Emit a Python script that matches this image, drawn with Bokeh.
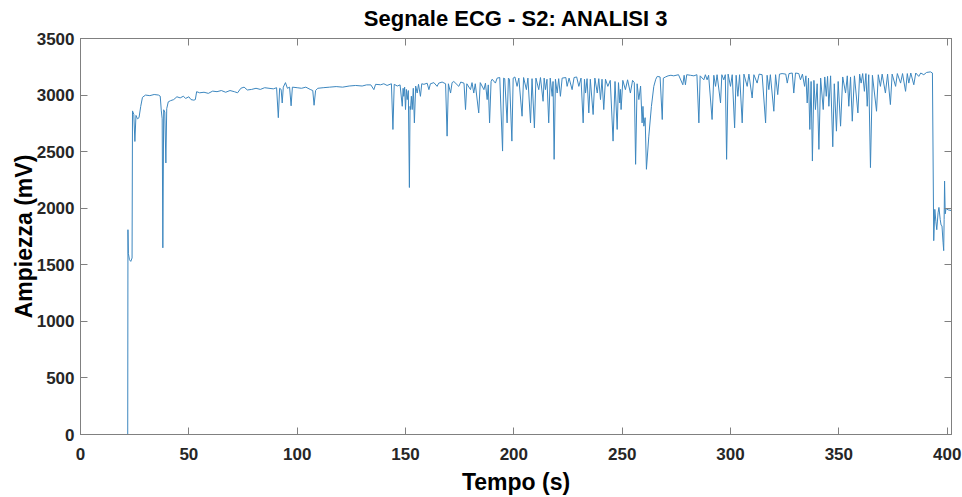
from bokeh.plotting import figure
from bokeh.models import LinearAxis, FixedTicker, Range1d, ColumnDataSource, CustomLabelingPolicy
from bokeh.embed import file_html
from bokeh.resources import INLINE

# ---------------- data ----------------
title_text = "Segnale ECG - S2: ANALISI 3"
x_label = "Tempo (s)"
y_label = "Ampiezza (mV)"
x_ticks = [0, 50, 100, 150, 200, 250, 300, 350, 400]
y_ticks = [0, 500, 1000, 1500, 2000, 2500, 3000, 3500]

# start-up part of the recording (0 - 134 s)
t_start = [0, 21.8, 21.9, 22.1, 22.6, 23.2, 23.8, 24.0, 24.6, 25.1, 25.6, 26.3, 27.0, 27.8, 28.6,
           30.0, 32.0, 34.0, 36.0, 36.8, 37.3, 37.7, 38.0, 38.4, 38.9, 39.4, 39.8, 40.5, 41.5,
           43.0, 44.5, 46.0, 47.5, 48.5, 50.0, 51.0, 52.3, 53.0, 53.6, 55.0, 57.0, 59.0, 61.0,
           63.0, 65.0, 67.0, 69.0, 71.0, 72.5, 74.0, 75.5, 77.0, 79.0, 81.0, 83.0, 85.0, 87.0,
           89.0, 90.5, 91.3, 91.9, 92.6, 93.1, 93.6, 94.6, 95.5, 96.5, 97.2, 97.8, 100.0, 102.0,
           104.0, 106.0, 107.2, 107.8, 108.5, 109.5, 112.0, 115.0, 118.0, 121.0, 124.0, 127.0,
           130.0, 132.0]
v_start = [0, 0, 1810, 1600, 1545, 1530, 1560, 2860, 2830, 2590, 2820, 2790, 2800, 2900, 2980,
           3000, 2995, 3005, 3000, 2990, 2860, 2790, 1650, 2870, 2850, 2400, 2880, 2940, 2950,
           2960, 2985, 2975, 2990, 2970, 2985, 2960, 2955, 2960, 3030, 3020, 3025, 3015, 3035,
           3030, 3040, 3025, 3040, 3030, 3020, 3060, 3070, 3045, 3050, 3060, 3050, 3065, 3060,
           3055, 3065, 2800, 3060, 3050, 2930, 3070, 3110, 3060, 3070, 2905, 3070, 3065, 3060,
           3070, 3050, 3040, 2910, 3040, 3060, 3065, 3070, 3075, 3070, 3080, 3085,
           3080, 3090]

# middle part (134 - 272 s)
t_mid = [134.0, 135.4, 136.2, 138.5, 140.0, 141.5, 143.5, 144.2, 144.8, 146.2, 147.5, 148.5,
         148.9, 149.2, 149.6, 150.0, 150.4, 150.8, 151.3, 151.8, 152.1, 152.3, 152.7, 153.1,
         153.6, 154.1, 154.7, 155.4, 156.0, 156.9, 157.5, 158.5, 160.0, 160.8, 161.5, 163.1,
         164.6, 165.3, 166.9, 168.5, 169.2, 169.8, 170.8, 171.5, 172.3, 174.6, 175.5, 177.0,
         177.7, 178.3, 180.0, 180.7, 181.5, 182.2, 183.8, 184.5, 186.2, 186.9, 187.7, 188.2,
         188.8, 189.5, 190.0, 191.5, 192.3, 193.5, 194.8, 195.3, 195.8, 196.9, 197.5, 198.0,
         199.1, 199.7, 200.5, 201.5, 202.3, 203.8, 204.5, 205.8, 206.5, 207.7, 208.4, 209.5,
         210.2, 211.5, 212.3, 213.5, 214.0, 214.6, 215.3, 216.1, 216.8, 217.7, 218.1, 218.6,
         219.2, 220.0, 220.7, 221.5, 222.3, 224.0, 224.6, 225.5, 226.9, 227.8, 229.0, 230.0,
         231.0, 232.0, 232.6, 233.1, 233.8, 234.6, 235.3, 236.6, 237.4, 238.5, 239.2, 240.0,
         240.7, 241.5, 242.3, 243.4, 244.5, 245.8, 246.7, 247.7, 248.3, 248.9, 249.2, 249.5,
         250.3, 251.5, 252.5, 253.8, 254.8, 255.6, 256.2, 256.9, 257.7, 258.5, 259.2, 259.6,
         260.0, 260.6, 261.2, 262.3, 263.5, 264.6, 265.5, 266.2, 267.5, 268.5, 269.0, 270.0,
         271.2]
v_mid = [3090, 3048, 3095, 3091, 3100, 3085, 3100, 2696, 3095, 3080, 3090, 2901,
         3060, 2989, 3070, 2872, 3050, 2960, 3040, 2183, 2900, 2872, 2990, 2872,
         3060, 2754, 3080, 3018, 3095, 2989, 3100, 3095, 3105, 3048, 3100, 3110,
         3077, 3105, 3115, 3100, 2637, 3100, 3018, 3110, 3120, 3077, 3115, 3105,
         2872, 3100, 3048, 3110, 3018, 3100, 2842, 3110, 3048, 3105, 2960, 3090,
         2754, 3120, 3140, 3106, 3150, 3155, 2505, 3150, 3145, 2754, 3150, 3140,
         2593, 3150, 3160, 3077, 3150, 2813, 3155, 3048, 3150, 2754, 3145, 2710,
         3150, 3048, 3155, 2945, 3150, 3048, 3140, 2754, 3150, 2989, 3120, 2432,
         3140, 3018, 3145, 2989, 3150, 3155, 3077, 3150, 3048, 3155, 3160, 3077,
         3150, 2754, 3140, 3018, 3145, 2842, 3140, 2828, 3150, 3018, 3145, 2960,
         3140, 2872, 3140, 3077, 3130, 2593, 3120, 2696, 3110, 2930, 3050, 2872,
         3130, 3048, 3135, 3018, 3130, 3110, 2388, 3100, 2960, 3080, 2754, 2900,
         2725, 2800, 2344, 2637, 2900, 3077, 3140, 3165, 3160, 2784, 3150, 3160,
         3170]

# late part (272 - 393 s)
t_late = [272.5, 273.8, 276.0, 278.0, 278.6, 279.2, 279.8, 281.5, 283.1, 284.5, 285.4, 286.0,
          287.7, 288.4, 289.2, 289.9, 291.5, 292.3, 293.1, 293.8, 295.4, 296.0, 296.9, 297.6,
          298.2, 298.9, 300.0, 300.8, 301.9, 302.6, 303.4, 304.2, 305.4, 306.2, 307.7, 308.5,
          310.0, 310.8, 312.3, 313.2, 314.6, 316.2, 316.9, 317.7, 318.4, 320.0, 320.8, 321.8,
          322.6, 323.8, 325.5, 326.2, 327.0, 328.5, 329.2, 330.0, 331.5, 332.3, 333.2, 334.2,
          334.8, 335.4, 336.0, 336.6, 337.2, 337.8, 338.5, 339.2, 340.0, 340.8, 341.6, 342.8,
          343.5, 344.2, 344.8, 345.4, 346.2, 347.2, 347.9, 348.9, 349.7, 350.8, 351.8, 353.1,
          353.9, 354.6, 355.4, 356.2, 357.2, 358.8, 359.6, 360.3, 361.0, 361.8, 362.5, 363.1,
          363.8, 364.6, 365.5, 367.4, 368.2, 369.2, 370.0, 371.5, 372.5, 373.8, 374.6, 376.2,
          377.0, 378.5, 379.4, 380.8, 381.6, 382.3, 383.2, 384.6, 385.5, 386.9, 387.8, 389.2,
          390.5, 392.3, 393.2]
v_late = [3175, 3170, 3180, 3091, 3175, 3091, 3180, 3175, 3170, 3180, 2754, 3170,
          3135, 3180, 3135, 3175, 2784, 3175, 3077, 3180, 2930, 3180, 3135, 3180,
          2432, 3185, 3077, 3180, 2710, 3175, 2989, 3180, 2754, 3185, 3077, 3185,
          2974, 3180, 3106, 3185, 3180, 2754, 3175, 3048, 3180, 2857, 3180, 3004,
          3185, 3190, 3185, 3106, 3190, 3195, 3018, 3195, 3190, 3135, 3185, 3077,
          3170, 2930, 3150, 2696, 3120, 2417, 3130, 2872, 3100, 2520, 3150, 2872,
          3160, 2989, 3165, 2901, 3170, 2543, 3100, 2681, 3120, 2725, 3160, 3018,
          3170, 2901, 3160, 2769, 3170, 2842, 3185, 3106, 3190, 3033, 3190, 2901,
          3180, 2359, 3175, 2857, 3180, 3077, 3185, 3018, 3185, 2916, 3185, 3077,
          3190, 3106, 3190, 3033, 3190, 3106, 3195, 3091, 3195, 3165, 3195, 3180,
          3200, 3205, 3195]

# final part after the drop (393.5 - 402 s)
t_end = [393.8, 394.3, 394.8, 395.2, 395.8, 396.2, 396.8, 397.2, 397.6, 398.1, 398.4, 398.6,
         398.8, 399.1, 399.5, 399.8, 400.5, 401.8, 402.0]
v_end = [1713, 1990, 1880, 1810, 1960, 2007, 1900, 1850, 1845, 1700, 1625, 1900,
         2240, 1950, 2000, 1992, 1985, 1980, 1990]

time_s = t_start + t_mid + t_late + t_end
amp_mV = v_start + v_mid + v_late + v_end

# ---------------- figure ----------------
FONT = "Liberation Sans"
AX_COL = "#808080"
TXT_COL = "#262626"

p = figure(width=962, height=497,
           x_range=Range1d(0, 402.0), y_range=Range1d(0, 3500),
           output_backend="svg", toolbar_location=None,
           min_border_left=80, min_border_right=11, min_border_top=0, min_border_bottom=0)
p.background_fill_color = "white"
p.border_fill_color = "white"
p.outline_line_color = AX_COL
p.xgrid.visible = False
p.ygrid.visible = False

src = ColumnDataSource(data=dict(t=time_s, v=amp_mV))
p.line("t", "v", source=src, line_color="#3d87bf", line_width=1)

p.title.text = title_text
p.title.align = "center"
p.title.text_font = FONT
p.title.text_font_size = "22px"
p.title.text_font_style = "bold"
p.title.text_color = "#000000"
p.title.standoff = 7

def style_axis(ax, ticks, label, show_labels=True):
    ax.ticker = FixedTicker(ticks=ticks)
    ax.minor_tick_line_color = None
    ax.minor_tick_in = 0
    ax.minor_tick_out = 0
    ax.major_tick_in = 7
    ax.major_tick_out = 0
    ax.axis_line_color = AX_COL
    ax.major_tick_line_color = AX_COL
    if show_labels:
        ax.major_label_text_font = FONT
        ax.major_label_text_font_size = "17px"
        ax.major_label_text_font_style = "bold"
        ax.major_label_text_color = TXT_COL
        ax.axis_label = label
        ax.axis_label_text_font = FONT
        ax.axis_label_text_font_size = "23px"
        ax.axis_label_text_font_style = "bold"
        ax.axis_label_text_color = "#000000"
    else:
        ax.major_label_policy = CustomLabelingPolicy(code="return []")
        ax.major_label_text_font_size = "1px"
        ax.major_label_standoff = 0
        ax.axis_label_standoff = 0
        ax.axis_label = None

style_axis(p.xaxis[0], x_ticks, x_label)
style_axis(p.yaxis[0], y_ticks, y_label)
p.xaxis[0].major_label_standoff = 13
p.xaxis[0].axis_label_standoff = 6
p.yaxis[0].major_label_standoff = 6
p.yaxis[0].axis_label_standoff = -3

top_ax = LinearAxis()
style_axis(top_ax, x_ticks, None, show_labels=False)
p.add_layout(top_ax, "above")
right_ax = LinearAxis()
style_axis(right_ax, y_ticks, None, show_labels=False)
p.add_layout(right_ax, "right")

open("out.html", "w").write(file_html(p, INLINE))
